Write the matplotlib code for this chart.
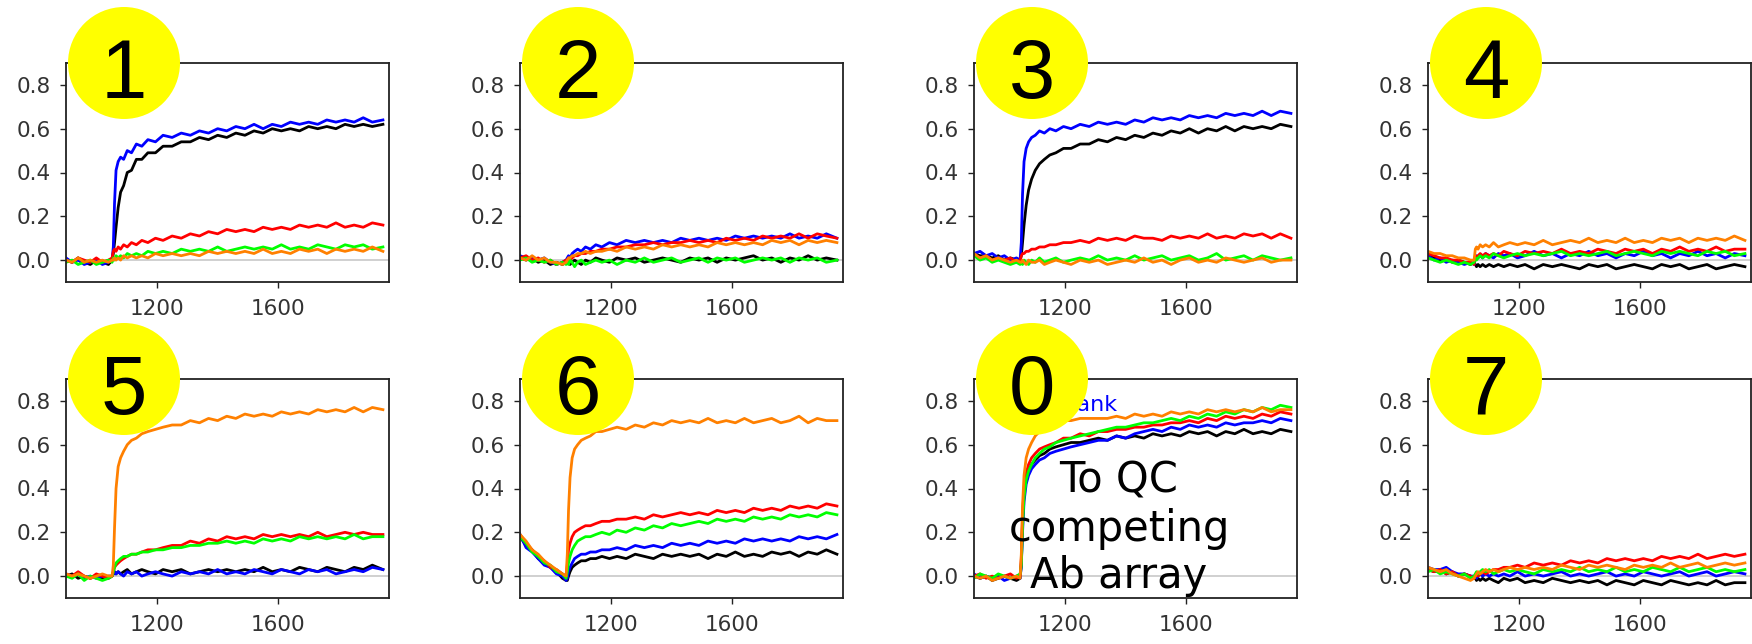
import numpy as np
import matplotlib
matplotlib.use("Agg")
import matplotlib.pyplot as plt
from matplotlib.patches import Ellipse
from matplotlib.ticker import FormatStrFormatter

# time axis (s), denser around the injection step at ~1055 s
t = [900, 920, 940, 960, 980, 1000, 1020, 1040, 1052,
     1056, 1060, 1065, 1072, 1080, 1090, 1102, 1116, 1132, 1150,
     1170, 1195, 1220, 1250, 1280, 1310, 1340, 1370, 1400, 1430,
     1460, 1490, 1520, 1550, 1580, 1610, 1640, 1670, 1700, 1730,
     1760, 1790, 1820, 1850, 1880, 1910, 1945]

# panel 1
p1_black = [0.00, -0.01, 0.01, -0.01, -0.02, 0.00, -0.01, -0.02, 0.00,
            0.03, 0.08, 0.15, 0.24, 0.31, 0.34, 0.40, 0.41, 0.46, 0.46,
            0.49, 0.49, 0.52, 0.52, 0.54, 0.54, 0.56, 0.55, 0.57, 0.56,
            0.58, 0.57, 0.59, 0.58, 0.60, 0.59, 0.60, 0.59, 0.61, 0.60,
            0.61, 0.60, 0.62, 0.61, 0.62, 0.61, 0.62]
p1_blue = [0.01, -0.01, 0.00, -0.02, -0.01, 0.00, -0.02, -0.01, 0.00,
           0.06, 0.26, 0.41, 0.45, 0.47, 0.46, 0.50, 0.49, 0.53, 0.52,
           0.55, 0.54, 0.57, 0.56, 0.58, 0.57, 0.59, 0.58, 0.60, 0.59,
           0.61, 0.60, 0.62, 0.60, 0.62, 0.61, 0.63, 0.62, 0.63, 0.62,
           0.64, 0.63, 0.64, 0.63, 0.65, 0.63, 0.64]
p1_red = [0.00, -0.01, 0.01, 0.00, -0.01, 0.01, -0.01, 0.00, 0.01,
          0.04, 0.05, 0.04, 0.06, 0.05, 0.07, 0.06, 0.08, 0.07, 0.09,
          0.08, 0.10, 0.09, 0.11, 0.10, 0.12, 0.11, 0.13, 0.12, 0.14,
          0.13, 0.14, 0.13, 0.15, 0.14, 0.15, 0.14, 0.16, 0.15, 0.16,
          0.15, 0.17, 0.15, 0.16, 0.15, 0.17, 0.16]
p1_green = [-0.01, 0.00, -0.02, -0.01, 0.00, -0.02, -0.01, 0.00, -0.01,
            0.01, 0.00, 0.02, 0.01, 0.02, 0.01, 0.03, 0.02, 0.03, 0.02,
            0.04, 0.03, 0.04, 0.03, 0.05, 0.04, 0.05, 0.04, 0.06, 0.04,
            0.05, 0.06, 0.05, 0.06, 0.05, 0.07, 0.05, 0.06, 0.05, 0.07,
            0.06, 0.05, 0.07, 0.06, 0.07, 0.05, 0.06]
p1_orange = [0.00, -0.01, 0.01, -0.01, 0.00, -0.01, 0.00, -0.01, 0.00,
             0.00, 0.01, 0.00, 0.01, 0.00, 0.02, 0.01, 0.02, 0.01, 0.02,
             0.01, 0.03, 0.02, 0.03, 0.02, 0.03, 0.02, 0.04, 0.03, 0.04,
             0.03, 0.04, 0.03, 0.05, 0.03, 0.04, 0.03, 0.05, 0.04, 0.05,
             0.03, 0.05, 0.04, 0.05, 0.04, 0.06, 0.04]

# panel 2
p2_black = [0.01, 0.00, 0.01, -0.01, 0.00, -0.02, -0.01, -0.02, -0.01,
            -0.01, 0.00, -0.02, -0.01, 0.00, -0.01, -0.02, 0.00, -0.01, 0.01,
            0.00, -0.01, 0.01, 0.00, 0.01, -0.01, 0.00, 0.01, 0.00, -0.01,
            0.01, 0.00, 0.01, -0.01, 0.01, 0.00, 0.01, 0.02, 0.00, 0.01,
            -0.01, 0.01, 0.00, 0.02, 0.00, 0.01, 0.00]
p2_blue = [0.02, 0.01, 0.01, 0.00, 0.01, -0.01, -0.02, -0.01, 0.00,
           0.01, 0.02, 0.01, 0.03, 0.04, 0.05, 0.04, 0.06, 0.05, 0.07,
           0.06, 0.08, 0.07, 0.09, 0.08, 0.09, 0.08, 0.09, 0.08, 0.10,
           0.09, 0.10, 0.09, 0.10, 0.09, 0.11, 0.10, 0.11, 0.10, 0.11,
           0.10, 0.12, 0.10, 0.11, 0.10, 0.12, 0.10]
p2_red = [0.01, 0.02, 0.00, 0.01, -0.01, 0.00, -0.02, -0.01, 0.00,
          0.00, 0.01, 0.00, 0.01, 0.02, 0.02, 0.03, 0.03, 0.04, 0.04,
          0.05, 0.05, 0.06, 0.06, 0.07, 0.07, 0.08, 0.07, 0.08, 0.08,
          0.09, 0.08, 0.09, 0.08, 0.10, 0.09, 0.10, 0.09, 0.11, 0.10,
          0.11, 0.10, 0.12, 0.10, 0.12, 0.11, 0.10]
p2_green = [0.00, 0.01, -0.01, 0.00, -0.01, 0.00, -0.02, -0.01, -0.02,
            -0.01, -0.02, 0.00, -0.01, -0.03, -0.01, 0.00, -0.02, -0.01, 0.00,
            -0.01, 0.00, -0.02, 0.00, -0.01, 0.01, -0.01, 0.00, 0.01, -0.01,
            0.00, 0.01, -0.01, 0.01, 0.00, 0.01, -0.01, 0.00, 0.01, 0.00,
            0.01, -0.01, 0.01, 0.00, 0.01, -0.01, 0.00]
p2_orange = [0.01, 0.00, 0.02, 0.00, 0.01, -0.01, -0.01, -0.02, -0.01,
             0.00, 0.01, 0.01, 0.02, 0.02, 0.03, 0.03, 0.04, 0.03, 0.04,
             0.04, 0.05, 0.04, 0.06, 0.05, 0.06, 0.05, 0.07, 0.06, 0.07,
             0.06, 0.07, 0.06, 0.08, 0.07, 0.08, 0.07, 0.08, 0.07, 0.09,
             0.08, 0.09, 0.07, 0.09, 0.08, 0.09, 0.08]

# panel 3
p3_black = [0.03, 0.02, 0.02, 0.01, 0.02, 0.00, 0.01, 0.00, 0.00,
            0.02, 0.08, 0.16, 0.25, 0.32, 0.37, 0.41, 0.44, 0.46, 0.48,
            0.49, 0.51, 0.51, 0.53, 0.53, 0.55, 0.54, 0.56, 0.55, 0.57,
            0.56, 0.58, 0.57, 0.59, 0.58, 0.60, 0.58, 0.60, 0.59, 0.61,
            0.59, 0.61, 0.60, 0.61, 0.60, 0.62, 0.61]
p3_blue = [0.03, 0.04, 0.02, 0.03, 0.01, 0.02, 0.00, 0.01, 0.00,
           0.08, 0.30, 0.45, 0.51, 0.54, 0.56, 0.57, 0.59, 0.58, 0.60,
           0.59, 0.61, 0.60, 0.62, 0.61, 0.63, 0.62, 0.63, 0.62, 0.64,
           0.63, 0.65, 0.64, 0.65, 0.64, 0.66, 0.65, 0.66, 0.65, 0.67,
           0.66, 0.67, 0.66, 0.68, 0.66, 0.68, 0.67]
p3_red = [0.02, 0.01, 0.02, 0.00, 0.01, 0.00, 0.01, -0.01, 0.00,
          0.02, 0.03, 0.03, 0.04, 0.04, 0.05, 0.05, 0.06, 0.06, 0.07,
          0.07, 0.08, 0.08, 0.09, 0.08, 0.10, 0.09, 0.10, 0.09, 0.11,
          0.10, 0.10, 0.09, 0.11, 0.10, 0.11, 0.10, 0.12, 0.10, 0.11,
          0.10, 0.12, 0.11, 0.12, 0.10, 0.12, 0.10]
p3_green = [0.02, 0.00, 0.01, -0.01, 0.00, -0.01, -0.02, -0.01, -0.02,
            -0.01, -0.02, 0.00, -0.01, -0.02, 0.00, -0.01, 0.01, -0.01, 0.00,
            0.01, -0.01, 0.00, 0.01, 0.00, 0.02, 0.00, 0.01, 0.00, 0.02,
            0.00, 0.01, 0.02, 0.00, 0.01, 0.02, 0.00, 0.01, 0.03, 0.00,
            0.01, 0.02, 0.00, 0.02, 0.01, 0.00, 0.01]
p3_orange = [0.03, 0.01, 0.02, 0.00, 0.01, 0.00, -0.01, 0.00, -0.01,
             -0.01, 0.00, -0.01, -0.02, 0.00, -0.01, -0.01, 0.00, -0.02, -0.01,
             0.00, -0.01, -0.02, 0.00, -0.01, 0.00, -0.02, -0.01, 0.00, -0.01,
             0.01, -0.01, 0.00, -0.02, 0.00, 0.01, -0.01, 0.00, -0.01, 0.01,
             0.00, -0.01, 0.00, 0.01, -0.01, 0.00, 0.00]

# panel 4
p4_black = [0.02, 0.01, 0.00, 0.01, -0.01, 0.00, -0.01, -0.02, -0.01,
            -0.02, -0.03, -0.02, -0.03, -0.02, -0.03, -0.02, -0.03, -0.02, -0.03,
            -0.02, -0.03, -0.02, -0.04, -0.02, -0.03, -0.02, -0.03, -0.04, -0.02,
            -0.03, -0.02, -0.04, -0.03, -0.02, -0.03, -0.04, -0.02, -0.03, -0.02,
            -0.04, -0.03, -0.02, -0.04, -0.03, -0.02, -0.03]
p4_blue = [0.02, 0.00, 0.01, -0.01, 0.00, -0.01, -0.02, -0.01, -0.02,
           0.01, 0.02, 0.01, 0.02, 0.01, 0.03, 0.02, 0.01, 0.03, 0.02,
           0.03, 0.01, 0.02, 0.04, 0.02, 0.03, 0.01, 0.03, 0.02, 0.04,
           0.02, 0.03, 0.01, 0.03, 0.02, 0.04, 0.02, 0.03, 0.01, 0.03,
           0.02, 0.04, 0.02, 0.03, 0.01, 0.03, 0.02]
p4_red = [0.03, 0.02, 0.01, 0.01, 0.00, 0.00, -0.01, -0.01, -0.02,
          0.02, 0.01, 0.02, 0.03, 0.02, 0.03, 0.02, 0.03, 0.02, 0.04,
          0.03, 0.02, 0.04, 0.03, 0.04, 0.03, 0.05, 0.03, 0.04, 0.03,
          0.05, 0.04, 0.03, 0.05, 0.04, 0.05, 0.03, 0.05, 0.04, 0.06,
          0.04, 0.05, 0.04, 0.06, 0.04, 0.05, 0.05]
p4_green = [0.01, 0.00, -0.01, 0.00, -0.01, -0.02, -0.01, -0.02, -0.01,
            0.01, 0.00, 0.01, 0.02, 0.01, 0.02, 0.01, 0.03, 0.02, 0.01,
            0.02, 0.03, 0.02, 0.03, 0.02, 0.03, 0.04, 0.02, 0.03, 0.02,
            0.03, 0.04, 0.02, 0.03, 0.04, 0.03, 0.02, 0.04, 0.03, 0.04,
            0.03, 0.02, 0.04, 0.03, 0.04, 0.02, 0.03]
p4_orange = [0.04, 0.03, 0.03, 0.02, 0.02, 0.01, 0.01, 0.00, 0.00,
             0.05, 0.06, 0.05, 0.07, 0.06, 0.07, 0.06, 0.08, 0.06, 0.07,
             0.08, 0.07, 0.08, 0.07, 0.09, 0.07, 0.08, 0.09, 0.08, 0.10,
             0.08, 0.09, 0.08, 0.10, 0.08, 0.09, 0.08, 0.10, 0.09, 0.10,
             0.08, 0.10, 0.09, 0.10, 0.09, 0.11, 0.09]

# panel 5
p5_black = [0.00, 0.01, -0.01, 0.00, -0.01, 0.00, -0.01, 0.00, 0.00,
            0.01, 0.02, 0.01, 0.02, 0.01, 0.02, 0.03, 0.01, 0.02, 0.03,
            0.02, 0.01, 0.03, 0.02, 0.03, 0.01, 0.02, 0.03, 0.02, 0.03,
            0.02, 0.03, 0.02, 0.04, 0.02, 0.03, 0.02, 0.04, 0.03, 0.02,
            0.04, 0.03, 0.02, 0.04, 0.03, 0.05, 0.03]
p5_blue = [0.01, 0.00, 0.01, -0.01, 0.00, -0.01, 0.00, -0.01, 0.00,
           0.01, 0.02, 0.01, 0.02, 0.01, 0.00, 0.02, 0.01, 0.02, 0.00,
           0.01, 0.02, 0.01, 0.00, 0.02, 0.01, 0.02, 0.01, 0.03, 0.01,
           0.02, 0.01, 0.03, 0.02, 0.01, 0.03, 0.02, 0.01, 0.03, 0.02,
           0.03, 0.01, 0.02, 0.03, 0.02, 0.04, 0.03]
p5_red = [0.01, 0.00, 0.02, 0.00, -0.01, 0.01, 0.00, -0.01, 0.00,
          0.02, 0.04, 0.05, 0.06, 0.07, 0.08, 0.09, 0.10, 0.10, 0.11,
          0.12, 0.12, 0.13, 0.14, 0.14, 0.16, 0.15, 0.17, 0.16, 0.18,
          0.17, 0.18, 0.17, 0.19, 0.18, 0.19, 0.18, 0.19, 0.18, 0.20,
          0.18, 0.19, 0.20, 0.19, 0.20, 0.19, 0.19]
p5_green = [0.00, -0.01, 0.01, -0.02, 0.00, -0.01, -0.02, -0.01, 0.00,
            0.02, 0.04, 0.06, 0.07, 0.08, 0.09, 0.09, 0.10, 0.10, 0.11,
            0.11, 0.12, 0.12, 0.13, 0.13, 0.14, 0.14, 0.15, 0.15, 0.16,
            0.15, 0.16, 0.15, 0.17, 0.16, 0.17, 0.16, 0.18, 0.17, 0.18,
            0.17, 0.18, 0.17, 0.19, 0.17, 0.18, 0.18]
p5_orange = [0.01, 0.00, 0.01, 0.00, -0.01, 0.00, 0.01, 0.00, 0.00,
             0.05, 0.22, 0.40, 0.50, 0.54, 0.57, 0.60, 0.62, 0.63, 0.65,
             0.66, 0.67, 0.68, 0.69, 0.69, 0.71, 0.70, 0.72, 0.71, 0.73,
             0.72, 0.74, 0.73, 0.74, 0.73, 0.75, 0.74, 0.75, 0.74, 0.76,
             0.75, 0.76, 0.75, 0.77, 0.75, 0.77, 0.76]

# panel 6
p6_black = [0.18, 0.14, 0.12, 0.08, 0.06, 0.04, 0.02, -0.01, -0.02,
            -0.02, 0.00, 0.02, 0.04, 0.05, 0.06, 0.07, 0.07, 0.08, 0.08,
            0.09, 0.08, 0.09, 0.08, 0.10, 0.09, 0.08, 0.10, 0.09, 0.10,
            0.09, 0.10, 0.08, 0.10, 0.09, 0.11, 0.09, 0.10, 0.09, 0.11,
            0.10, 0.11, 0.09, 0.11, 0.10, 0.12, 0.10]
p6_blue = [0.19, 0.13, 0.11, 0.08, 0.05, 0.04, 0.01, 0.00, -0.02,
           -0.01, 0.02, 0.04, 0.06, 0.08, 0.09, 0.10, 0.10, 0.11, 0.11,
           0.12, 0.12, 0.13, 0.12, 0.14, 0.13, 0.14, 0.13, 0.15, 0.14,
           0.15, 0.14, 0.16, 0.15, 0.16, 0.15, 0.17, 0.16, 0.17, 0.16,
           0.17, 0.16, 0.18, 0.17, 0.18, 0.17, 0.19]
p6_red = [0.19, 0.15, 0.12, 0.09, 0.07, 0.04, 0.03, 0.01, 0.00,
          0.05, 0.12, 0.15, 0.18, 0.20, 0.21, 0.22, 0.23, 0.23, 0.24,
          0.25, 0.25, 0.26, 0.26, 0.27, 0.26, 0.28, 0.27, 0.28, 0.29,
          0.28, 0.29, 0.28, 0.30, 0.29, 0.30, 0.29, 0.31, 0.30, 0.31,
          0.30, 0.32, 0.31, 0.32, 0.31, 0.33, 0.32]
p6_green = [0.18, 0.15, 0.11, 0.09, 0.06, 0.05, 0.02, 0.01, -0.01,
            0.02, 0.06, 0.09, 0.12, 0.14, 0.16, 0.17, 0.18, 0.18, 0.19,
            0.20, 0.19, 0.21, 0.20, 0.22, 0.21, 0.23, 0.22, 0.24, 0.23,
            0.24, 0.25, 0.24, 0.26, 0.25, 0.26, 0.25, 0.27, 0.26, 0.27,
            0.26, 0.28, 0.27, 0.28, 0.27, 0.29, 0.28]
p6_orange = [0.19, 0.16, 0.12, 0.10, 0.07, 0.05, 0.03, 0.01, 0.00,
             0.10, 0.30, 0.45, 0.54, 0.58, 0.60, 0.62, 0.63, 0.64, 0.66,
             0.66, 0.67, 0.68, 0.67, 0.69, 0.68, 0.70, 0.69, 0.71, 0.70,
             0.71, 0.70, 0.72, 0.70, 0.71, 0.70, 0.72, 0.70, 0.71, 0.72,
             0.70, 0.71, 0.73, 0.70, 0.72, 0.71, 0.71]

# panel 0 (QC array)
p0_black = [0.00, -0.01, 0.00, -0.02, -0.01, 0.00, -0.01, -0.02, -0.01,
            0.05, 0.25, 0.38, 0.44, 0.48, 0.51, 0.53, 0.55, 0.56, 0.58,
            0.59, 0.60, 0.61, 0.61, 0.62, 0.63, 0.62, 0.64, 0.63, 0.64,
            0.63, 0.65, 0.64, 0.65, 0.64, 0.66, 0.65, 0.66, 0.64, 0.66,
            0.65, 0.67, 0.65, 0.66, 0.65, 0.67, 0.66]
p0_blue = [0.01, -0.01, 0.00, -0.01, 0.00, -0.02, -0.01, 0.00, -0.01,
           0.05, 0.20, 0.34, 0.42, 0.46, 0.49, 0.51, 0.53, 0.54, 0.56,
           0.57, 0.58, 0.59, 0.60, 0.61, 0.62, 0.62, 0.64, 0.63, 0.65,
           0.66, 0.67, 0.66, 0.68, 0.67, 0.69, 0.68, 0.69, 0.68, 0.70,
           0.69, 0.70, 0.70, 0.71, 0.70, 0.72, 0.71]
p0_red = [0.00, 0.01, -0.01, 0.00, -0.01, 0.00, 0.01, -0.01, 0.00,
          0.08, 0.28, 0.40, 0.47, 0.51, 0.54, 0.56, 0.58, 0.59, 0.60,
          0.61, 0.63, 0.63, 0.65, 0.64, 0.66, 0.66, 0.67, 0.67, 0.68,
          0.68, 0.69, 0.69, 0.70, 0.70, 0.71, 0.70, 0.72, 0.71, 0.73,
          0.72, 0.73, 0.72, 0.74, 0.73, 0.75, 0.74]
p0_green = [-0.01, 0.01, 0.00, -0.01, 0.01, 0.00, -0.01, 0.00, 0.01,
            0.05, 0.22, 0.36, 0.44, 0.48, 0.51, 0.54, 0.56, 0.58, 0.59,
            0.61, 0.62, 0.63, 0.64, 0.65, 0.66, 0.67, 0.68, 0.68, 0.69,
            0.70, 0.70, 0.71, 0.72, 0.71, 0.73, 0.72, 0.74, 0.73, 0.75,
            0.74, 0.76, 0.75, 0.77, 0.76, 0.78, 0.77]
p0_orange = [0.00, -0.01, 0.00, -0.02, -0.01, 0.00, -0.01, 0.00, -0.01,
             0.10, 0.32, 0.46, 0.54, 0.58, 0.61, 0.64, 0.66, 0.67, 0.69,
             0.70, 0.71, 0.71, 0.72, 0.72, 0.72, 0.72, 0.73, 0.72, 0.74,
             0.73, 0.74, 0.73, 0.75, 0.74, 0.75, 0.74, 0.76, 0.75, 0.76,
             0.75, 0.76, 0.75, 0.77, 0.75, 0.76, 0.76]

# panel 7
p7_black = [0.03, 0.02, 0.03, 0.01, 0.02, 0.00, 0.01, 0.00, -0.01,
            -0.01, -0.02, -0.01, -0.02, -0.01, -0.02, -0.01, -0.02, -0.03, -0.01,
            -0.02, -0.01, -0.03, -0.02, -0.03, -0.01, -0.02, -0.03, -0.02, -0.03,
            -0.02, -0.04, -0.02, -0.03, -0.04, -0.02, -0.03, -0.04, -0.02, -0.03,
            -0.04, -0.03, -0.04, -0.02, -0.04, -0.03, -0.03]
p7_blue = [0.04, 0.03, 0.03, 0.04, 0.02, 0.01, 0.01, 0.00, 0.00,
           0.00, -0.01, 0.00, 0.01, 0.00, 0.01, 0.00, 0.01, 0.00, 0.01,
           0.00, 0.02, 0.00, 0.01, 0.00, 0.01, 0.02, 0.00, 0.01, 0.00,
           0.01, 0.02, 0.00, 0.01, 0.00, 0.02, 0.01, 0.00, 0.01, 0.02,
           0.00, 0.01, 0.02, 0.00, 0.01, 0.02, 0.01]
p7_red = [0.03, 0.02, 0.03, 0.01, 0.02, 0.00, 0.01, 0.00, -0.01,
          0.00, 0.01, 0.00, 0.01, 0.02, 0.01, 0.02, 0.03, 0.03, 0.04,
          0.04, 0.05, 0.04, 0.06, 0.05, 0.06, 0.05, 0.07, 0.06, 0.07,
          0.06, 0.08, 0.07, 0.08, 0.07, 0.08, 0.07, 0.09, 0.08, 0.09,
          0.08, 0.10, 0.08, 0.09, 0.10, 0.09, 0.10]
p7_green = [0.02, 0.03, 0.01, 0.02, 0.01, 0.00, 0.01, -0.01, 0.00,
            0.01, 0.02, 0.01, 0.02, 0.03, 0.02, 0.03, 0.01, 0.02, 0.03,
            0.02, 0.03, 0.02, 0.01, 0.03, 0.02, 0.03, 0.02, 0.04, 0.02,
            0.03, 0.02, 0.04, 0.02, 0.03, 0.02, 0.04, 0.03, 0.02, 0.04,
            0.02, 0.03, 0.04, 0.02, 0.03, 0.02, 0.03]
p7_orange = [0.04, 0.03, 0.02, 0.03, 0.01, 0.00, -0.01, -0.02, -0.01,
             0.00, 0.01, 0.02, 0.01, 0.02, 0.03, 0.02, 0.03, 0.02, 0.03,
             0.04, 0.03, 0.04, 0.03, 0.04, 0.03, 0.05, 0.04, 0.03, 0.05,
             0.04, 0.05, 0.04, 0.03, 0.05, 0.04, 0.05, 0.04, 0.06, 0.04,
             0.05, 0.06, 0.04, 0.05, 0.06, 0.05, 0.06]

labels = ["1", "2", "3", "4", "5", "6", "0", "7"]
colors = ["black", "#0000ff", "#ff0000", "#00ff00", "#ff8000"]
panels = [
    [p1_black, p1_blue, p1_red, p1_green, p1_orange],
    [p2_black, p2_blue, p2_red, p2_green, p2_orange],
    [p3_black, p3_blue, p3_red, p3_green, p3_orange],
    [p4_black, p4_blue, p4_red, p4_green, p4_orange],
    [p5_black, p5_blue, p5_red, p5_green, p5_orange],
    [p6_black, p6_blue, p6_red, p6_green, p6_orange],
    [p0_black, p0_blue, p0_red, p0_green, p0_orange],
    [p7_black, p7_blue, p7_red, p7_green, p7_orange],
]

W, H = 1752, 644
fig = plt.figure(figsize=(W / 100, H / 100), dpi=100)
lefts = [66, 520, 974, 1428]
tops = [63, 379]
aw, ah = 323, 219

for k in range(8):
    r, c = divmod(k, 4)
    ax = fig.add_axes([lefts[c] / W, 1 - (tops[r] + ah) / H, aw / W, ah / H])
    ax.axhline(0, color="#c8c8c8", lw=1.2, zorder=1)
    for col, y in zip(colors, panels[k]):
        ax.plot(t, y, color=col, lw=2.0, zorder=2)
    ax.set_xlim(900, 1965)
    ax.set_ylim(-0.1, 0.9)
    ax.set_xticks([1200, 1600])
    ax.set_yticks([0.0, 0.2, 0.4, 0.6, 0.8])
    ax.yaxis.set_major_formatter(FormatStrFormatter("%.1f"))
    ax.tick_params(direction="out", length=4, width=1, colors="#222222",
                   labelcolor="#333333", labelsize=15.5)
    ax.tick_params(axis="x", pad=8)
    ax.tick_params(axis="y", pad=7)
    for sp in ax.spines.values():
        sp.set_color("#222222")
        sp.set_linewidth(1.3)

    if labels[k] == "0":
        ax.text(1375, 0.755, "Blank", color="#0000ff", fontsize=16,
                ha="right", va="baseline", zorder=3)
        ax.text(0.449, 0.317, "To QC\ncompeting\nAb array", transform=ax.transAxes,
                ha="center", va="center", fontsize=30, linespacing=1.17,
                color="black", zorder=4)

    # yellow number badge over the top-left corner
    cx = (lefts[c] + 58) / W
    cy = 1 - tops[r] / H
    fig.add_artist(Ellipse((cx, cy), 112 / W, 112 / H, transform=fig.transFigure,
                           facecolor="#ffff00", edgecolor="none", zorder=5))
    fig.text(cx, 1 - (tops[r] + 35) / H, labels[k], ha="center", va="baseline",
             fontsize=60, family="Liberation Sans", color="black", zorder=6)

fig.savefig("out.png", dpi=100, facecolor="white")
